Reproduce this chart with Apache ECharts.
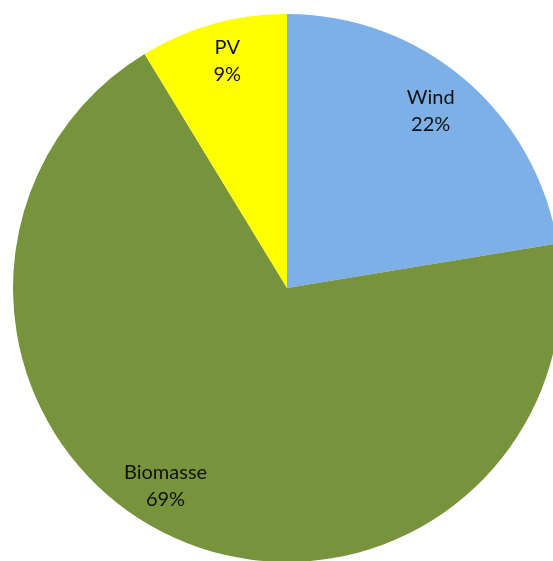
<!DOCTYPE html>
<html>
<head>
<meta charset="utf-8">
<script src="https://cdn.jsdelivr.net/npm/echarts@6/dist/echarts.min.js"></script>
<style>
html,body{margin:0;padding:0;background:#fff;}
#chart{width:553px;height:561px;}
</style>
</head>
<body>
<div id="chart"></div>
<script>
var categories = ['Wind', 'Biomasse', 'PV'];
var values = [22.4, 68.9, 8.7];
var colors = ['#7EB0E8', '#77933C', '#FFFF00'];
var labelOffsets = [[-9, 3], [-23, -16], [4, 0]];

var data = categories.map(function (c, i) {
  return { name: c, value: values[i], itemStyle: { color: colors[i] } };
});
var labelData = categories.map(function (c, i) {
  return { name: c, value: values[i], label: { offset: labelOffsets[i] } };
});

var chart = echarts.init(document.getElementById('chart'));
chart.setOption({
  backgroundColor: '#ffffff',
  animation: false,
  series: [
    {
      type: 'pie',
      center: [287, 288],
      radius: [0, 274],
      startAngle: 90,
      clockwise: true,
      data: data,
      label: { show: false },
      labelLine: { show: false },
      itemStyle: { borderWidth: 0 },
      emphasis: { disabled: true }
    },
    {
      type: 'pie',
      center: [287, 288],
      radius: [0, 466],
      startAngle: 90,
      clockwise: true,
      silent: true,
      data: labelData,
      itemStyle: { color: 'rgba(0,0,0,0)', borderWidth: 0 },
      label: {
        show: true,
        position: 'inside',
        color: '#111111',
        fontFamily: 'Lato, "Open Sans", sans-serif',
        fontSize: 20,
        lineHeight: 27,
        formatter: function (p) {
          return p.name + '\n' + Math.round(p.percent) + '%';
        }
      },
      labelLine: { show: false },
      emphasis: { disabled: true }
    }
  ]
});
</script>
</body>
</html>
